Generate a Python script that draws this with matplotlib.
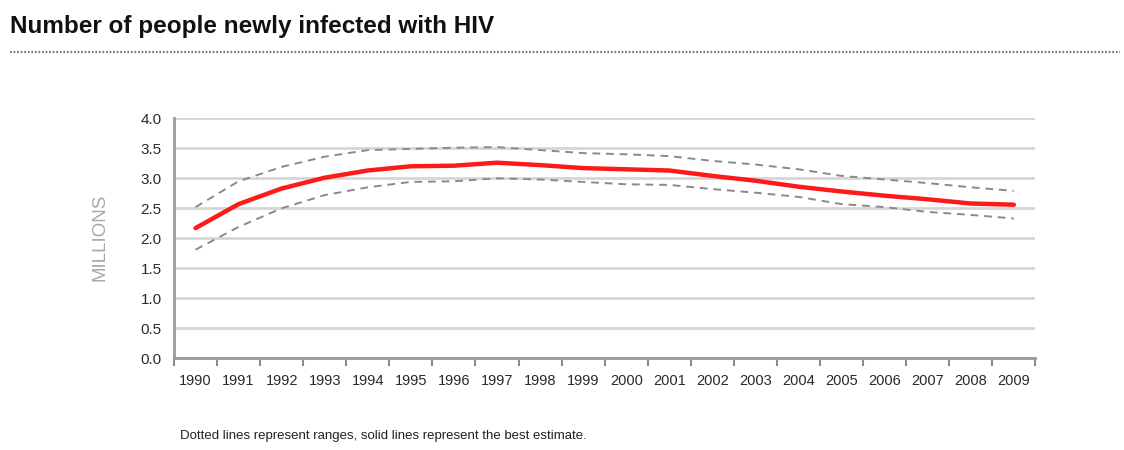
import numpy as np
import matplotlib
matplotlib.use('agg')
import matplotlib.pyplot as plt
from matplotlib.lines import Line2D

plt.rcParams['font.family'] = ['Liberation Sans', 'DejaVu Sans']

years = [str(y) for y in range(1990, 2010)]

# millions of people newly infected
best = [2.17, 2.57, 2.83, 3.01, 3.13, 3.20, 3.21, 3.26, 3.22, 3.17,
        3.15, 3.13, 3.04, 2.96, 2.86, 2.78, 2.71, 2.65, 2.58, 2.56]
upper = [2.52, 2.95, 3.19, 3.36, 3.47, 3.49, 3.51, 3.52, 3.47, 3.42,
         3.40, 3.37, 3.29, 3.23, 3.15, 3.04, 2.98, 2.92, 2.85, 2.79]
lower = [1.81, 2.19, 2.50, 2.72, 2.85, 2.94, 2.95, 3.00, 2.98, 2.94,
         2.90, 2.89, 2.82, 2.76, 2.69, 2.57, 2.52, 2.44, 2.39, 2.33]

yticks = [0.0, 0.5, 1.0, 1.5, 2.0, 2.5, 3.0, 3.5, 4.0]

fig = plt.figure(figsize=(11.24, 4.5), dpi=100)
ax = fig.add_axes([174 / 1124, 1 - 358.3 / 450, 861.4 / 1124, 240 / 450])

x = np.arange(len(years))
ax.plot(x, upper, color='#8a8a8a', lw=1.4, linestyle=(0, (4, 3)))
ax.plot(x, lower, color='#8a8a8a', lw=1.4, linestyle=(0, (4, 3)))
ax.plot(x, best, color='#ff1a1a', lw=3.2, solid_capstyle='round')

ax.set_xlim(-0.5, len(years) - 0.5)
ax.set_ylim(0, 4.0)
ax.set_yticks(yticks)
ax.set_yticklabels(['%.1f' % v for v in yticks])
ax.yaxis.grid(True, color='#d6d6d6', lw=2)
ax.set_axisbelow(True)

# tick marks between categories, labels at centres
ax.set_xticks(np.arange(-0.5, len(years), 1.0))
ax.set_xticklabels([])
ax.set_xticks(x, minor=True)
ax.set_xticklabels(years, minor=True)
ax.tick_params(axis='x', which='major', length=6, width=1.5, color='#8c8c8c')
ax.tick_params(axis='x', which='minor', length=0, pad=11,
               labelsize=10.5, labelcolor='#2a2a2a')
ax.tick_params(axis='y', length=0, pad=9, labelsize=11, labelcolor='#2a2a2a')

for s in ('top', 'right'):
    ax.spines[s].set_visible(False)
for s in ('left', 'bottom'):
    ax.spines[s].set_color('#9a9a9a')
    ax.spines[s].set_linewidth(2)

fig.text(100 / 1124, 1 - 237 / 450, 'MILLIONS', rotation=90, ha='center',
         va='center', fontsize=13.5, color='#a8a8a8')

fig.text(10 / 1124, 1 - 26 / 450, 'Number of people newly infected with HIV',
         fontsize=17.5, fontweight='bold', color='#111111', va='center')
fig.add_artist(Line2D([10 / 1124, 1120 / 1124], [1 - 52 / 450, 1 - 52 / 450],
                      color='#7a7a7a', lw=1.6, linestyle=(0, (0.8, 0.8)),
                      transform=fig.transFigure))

fig.text(180 / 1124, 1 - 436 / 450,
         'Dotted lines represent ranges, solid lines represent the best estimate.',
         fontsize=9.5, color='#222222', va='center')

fig.savefig('out.png', dpi=100)
